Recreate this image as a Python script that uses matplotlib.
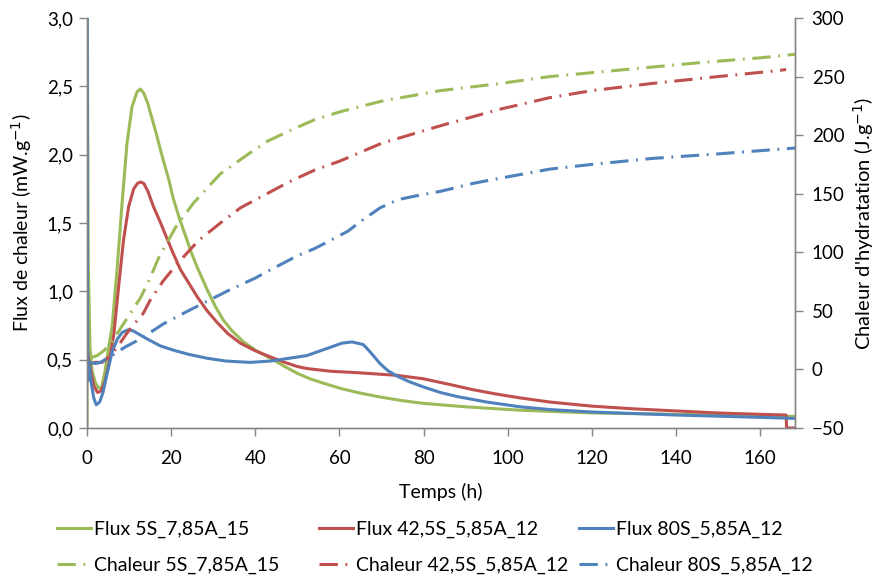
import matplotlib
matplotlib.use("Agg")
import matplotlib.pyplot as plt
from matplotlib.ticker import FuncFormatter

plt.rcParams['font.family'] = ['Lato', 'DejaVu Sans']

GREEN = '#9BBB59'
RED = '#C0504D'
BLUE = '#4F81BD'
AXC = '#868686'

# ---- Flux (mW/g), left axis ----
t_flux_g = [0, 0.05, 0.3, 0.7, 1.2, 2.0, 2.7, 3.4, 4.2, 5.0, 6.0, 7.2, 8.4, 9.5, 10.7, 11.9, 12.7,
            13.5, 14.5, 15.5, 16.5, 17.5, 18.5, 19.5, 20.5, 22, 23.5, 24.6, 26, 27.3, 28.6, 30.5, 32.4,
            34.5, 37.2, 40, 43.6, 47, 50, 53, 56, 60.2, 65, 70, 75, 80, 90, 103, 120, 140, 160, 168.3]
flux_g = [0.0, 3.3, 1.2, 0.6, 0.42, 0.33, 0.295, 0.29, 0.4, 0.56, 0.75, 1.18, 1.67, 2.08, 2.35, 2.46, 2.48,
          2.45, 2.37, 2.26, 2.15, 2.03, 1.92, 1.81, 1.68, 1.53, 1.40, 1.30, 1.19, 1.10, 1.01, 0.89, 0.79,
          0.71, 0.63, 0.57, 0.51, 0.45, 0.40, 0.36, 0.33, 0.29, 0.255, 0.225, 0.2, 0.18, 0.155, 0.13, 0.11, 0.10, 0.088, 0.085]

t_flux_r = [0.15, 0.5, 1.0, 1.6, 2.5, 3.3, 4.2, 5.2, 6.4, 7.6, 8.7, 9.9, 11.1, 12.0, 12.7,
            13.5, 14.5, 15.8, 17.5, 19.1, 20.6, 22.2, 24.2, 26.2, 28.5, 31, 33.5, 36.5, 40, 43.6, 47, 50, 52.3, 58, 64.2, 69,
            73.7, 80, 86, 91.8, 97, 103, 110, 120, 130, 140, 150, 160, 166.2, 166.3, 168.3]
flux_r = [0.55, 0.48, 0.40, 0.31, 0.26, 0.27, 0.33, 0.47, 0.69, 1.06, 1.38, 1.62, 1.75, 1.79, 1.80,
          1.79, 1.73, 1.62, 1.50, 1.38, 1.27, 1.16, 1.06, 0.96, 0.86, 0.77, 0.69, 0.62, 0.565, 0.52, 0.48, 0.45, 0.435, 0.415, 0.405, 0.395,
          0.385, 0.36, 0.32, 0.28, 0.25, 0.22, 0.19, 0.16, 0.14, 0.125, 0.11, 0.10, 0.095, 0.0, 0.0]

t_flux_b = [0, 0.05, 0.15, 0.3, 0.6, 1.0, 1.6, 2.2, 3.0, 3.8, 4.8, 6.0, 7.2, 8.4, 9.9, 11,
            12.7, 15, 17.5, 20.5, 24, 28.6, 33, 38.8, 43.6, 48, 52.3, 55, 57.8, 60.5, 63, 65.7, 67.5, 69.7,
            71.5, 73.7, 76.5, 80, 84, 88, 95, 103, 110, 120, 140, 160, 168.3]
flux_b = [3.3, 3.0, 0.6, 0.35, 0.45, 0.33, 0.22, 0.17, 0.19, 0.26, 0.40, 0.56, 0.65, 0.70, 0.72, 0.71,
          0.68, 0.64, 0.60, 0.57, 0.54, 0.51, 0.49, 0.48, 0.49, 0.51, 0.53, 0.56, 0.59, 0.62, 0.63, 0.61, 0.55, 0.47,
          0.42, 0.38, 0.34, 0.30, 0.26, 0.23, 0.19, 0.155, 0.135, 0.117, 0.095, 0.078, 0.07]

# ---- Heat (J/g), right axis ----
t_heat_g = [1.0, 2.5, 4, 6, 8.5, 10.5, 12.7, 15, 17, 21, 25.3, 31.7, 38.8, 43, 48.3, 54, 60.2, 70, 84, 98,
            110, 125, 146, 160, 168.3]
heat_g = [10, 12, 16, 24, 38, 49, 61, 78, 95, 121, 142, 167, 185, 195, 204, 213, 220, 229, 238, 244,
          250, 255, 262, 266, 269]

t_heat_r = [1.5, 3.6, 5, 7, 9.5, 11.5, 13.4, 15, 18, 21.4, 26.5, 31.7, 36.5, 41.2, 48, 54, 60.2, 70, 84, 98, 110,
            120, 134, 150, 164, 166.2]
heat_r = [6, 6, 10, 18, 31, 40, 48, 59, 75, 90, 110, 125, 138, 147, 160, 170, 178, 193, 208, 222, 232,
          238, 244, 250, 255, 256]

t_heat_b = [0.5, 2, 3.2, 6, 9, 12.7, 18.2, 24.6, 33.4, 40, 43.6, 50, 54, 57.8, 62, 65.7, 69.7, 74,
            78, 84, 92, 99.4, 110, 120, 134, 150, 168.3]
heat_b = [6, 5, 6, 12, 19, 26, 39, 51, 67, 78, 85, 97, 103, 110, 118, 128, 138, 145, 148,
          152, 159, 164, 171, 175, 180, 184, 189]

fig = plt.figure(figsize=(8.8, 5.79), dpi=100)
ax = fig.add_axes([87 / 880, 1 - 428 / 579, (795 - 87) / 880, (428 - 18) / 579])
ax2 = ax.twinx()

lw = 2.2
dash = (6, 2.5, 0.6, 2.5)
h1, = ax.plot(t_flux_g, flux_g, color=GREEN, lw=lw, label='Flux 5S_7,85A_15')
h3, = ax.plot(t_flux_r, flux_r, color=RED, lw=lw, label='Flux 42,5S_5,85A_12')
h5, = ax.plot(t_flux_b, flux_b, color=BLUE, lw=lw, label='Flux 80S_5,85A_12')
h2, = ax2.plot(t_heat_g, heat_g, color=GREEN, lw=lw, dashes=dash, label='Chaleur 5S_7,85A_15')
h4, = ax2.plot(t_heat_r, heat_r, color=RED, lw=lw, dashes=dash, label='Chaleur 42,5S_5,85A_12')
h6, = ax2.plot(t_heat_b, heat_b, color=BLUE, lw=lw, dashes=dash, label='Chaleur 80S_5,85A_12')

ax.set_xlim(0, 168.3)
ax.set_ylim(0, 3.0)
ax2.set_ylim(-50, 300)
ax.set_xticks(range(0, 161, 20))
ax.set_yticks([0, 0.5, 1.0, 1.5, 2.0, 2.5, 3.0])
ax2.set_yticks(range(-50, 301, 50))
ax.yaxis.set_major_formatter(FuncFormatter(lambda v, p: f'{v:.1f}'.replace('.', ',')))

for a in (ax, ax2):
    a.spines['top'].set_visible(False)
    for s in ('left', 'right', 'bottom'):
        a.spines[s].set_color(AXC)
        a.spines[s].set_linewidth(1.0)
    a.tick_params(colors=AXC, labelcolor='black', labelsize=13.5, length=6, width=1.0, direction='out')
ax.tick_params(axis='x', pad=10)
ax.tick_params(axis='y', pad=4)
ax2.tick_params(axis='y', pad=6)

ax.set_xlabel('Temps (h)', fontsize=14, labelpad=11)
ax.set_ylabel('Flux de chaleur (mW.g$^{-1}$)', fontsize=14, labelpad=9)
ax2.set_ylabel("Chaleur d'hydratation (J.g$^{-1}$)", fontsize=14.5, labelpad=5)

# Legend: three equal-width columns (Excel style), one legend per column
columns = [(h1, h2), (h3, h4), (h5, h6)]
col_x = [57, 319, 579]
for hs, x in zip(columns, col_x):
    leg = fig.legend(list(hs), [h.get_label() for h in hs], loc='upper left',
                     bbox_to_anchor=(x / 880, 1 - 521 / 579), frameon=False, fontsize=14,
                     handlelength=1.75, handletextpad=0.15, labelspacing=0.95,
                     borderpad=0, borderaxespad=0)

fig.savefig('out.png', dpi=100)
